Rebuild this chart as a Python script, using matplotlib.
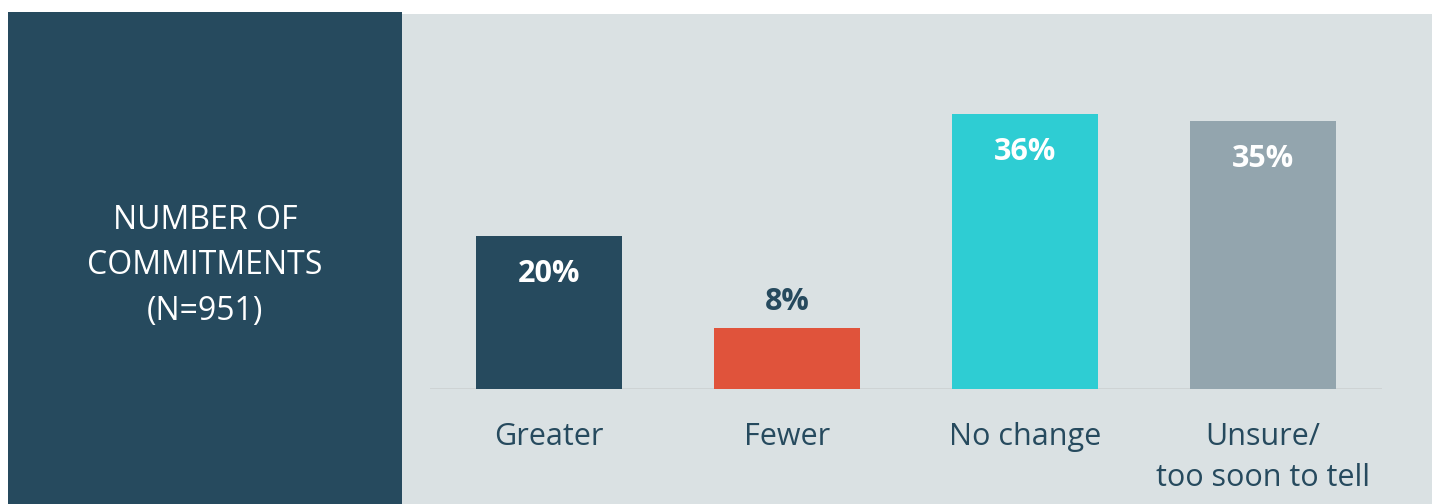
import matplotlib.pyplot as plt
from matplotlib.patches import Rectangle

# ==============================
# Data
# ==============================
categories = ["Greater", "Fewer", "No change", "Unsure/\ntoo soon to tell"]
values = [20, 8, 36, 35]
bar_colors = ["#264a5e", "#e0533b", "#2ecdd3", "#93a5ae"]
panel_title = "NUMBER OF\nCOMMITMENTS\n(N=951)"

NAVY = "#264a5e"
PANEL_BG = "#dae1e3"

plt.rcParams["font.family"] = ["Open Sans", "DejaVu Sans"]

W, H = 1432, 504
fig = plt.figure(figsize=(W / 100, H / 100), dpi=100)
fig.patch.set_facecolor("white")

# ==============================
# Background panels (pixel coords -> figure fractions)
# ==============================
def px(x0, y0, x1, y1):
    return (x0 / W, 1 - y1 / H, (x1 - x0) / W, (y1 - y0) / H)

x, y, w, h = px(8, 12, 402, 504)
fig.patches.append(Rectangle((x, y), w, h, transform=fig.transFigure,
                             facecolor=NAVY, edgecolor="none", zorder=-2))
x, y, w, h = px(402, 14, 1432, 504)
fig.patches.append(Rectangle((x, y), w, h, transform=fig.transFigure,
                             facecolor=PANEL_BG, edgecolor="none", zorder=-2))

fig.text(205 / W, 1 - 266 / H, panel_title, color="white", fontsize=23,
         ha="center", va="center", linespacing=1.5)

# ==============================
# Bar chart
# ==============================
ax = fig.add_axes(px(430, 83, 1382, 389))
ax.set_facecolor("none")
pos = list(range(len(categories)))
ax.bar(pos, values, width=0.61, color=bar_colors, zorder=3)
ax.axhline(0, color="#cdd2d3", linewidth=2, zorder=2)
ax.set_xlim(-0.5, len(categories) - 0.5)
ax.set_ylim(0, 40)
ax.axis("off")

for i, v in enumerate(values):
    if v < 12:
        ax.annotate(f"{v}%", xy=(i, v), xytext=(0, 26 * 0.72),
                    textcoords="offset points", ha="center", va="center",
                    fontsize=22, fontweight="bold", color=NAVY)
    else:
        ax.annotate(f"{v}%", xy=(i, v), xytext=(0, -38 * 0.72),
                    textcoords="offset points", ha="center", va="center",
                    fontsize=22, fontweight="bold", color="white")

for i, lab in enumerate(categories):
    ax.annotate(lab, xy=(i, 0), xytext=(0, -33 * 0.72),
                textcoords="offset points", ha="center", va="top",
                fontsize=22, color=NAVY, linespacing=1.5,
                annotation_clip=False)

fig.savefig("out.png", dpi=100)
